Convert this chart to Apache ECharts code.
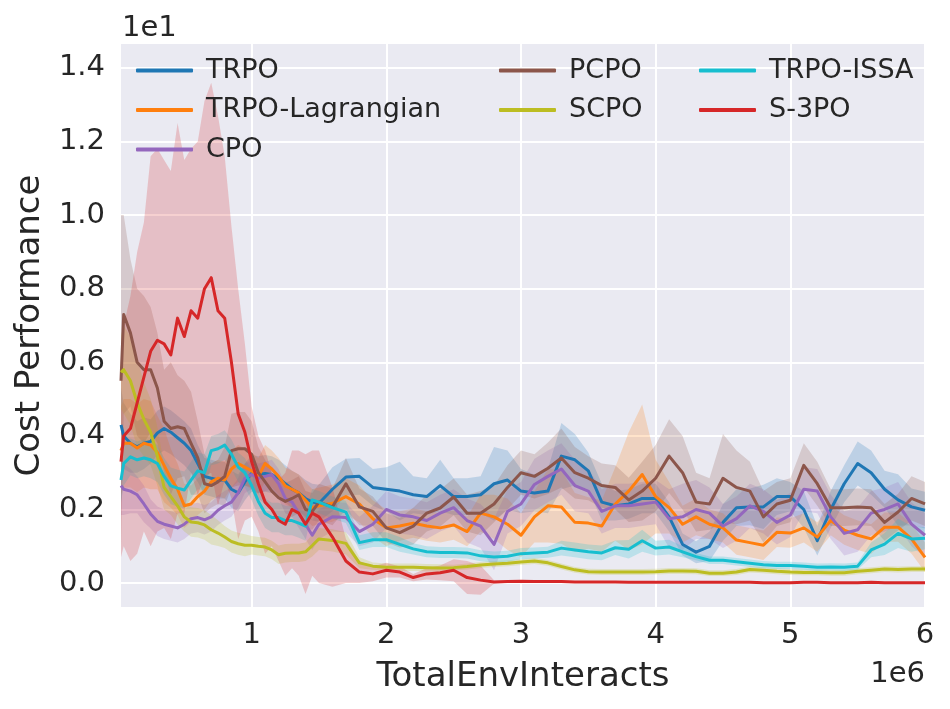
<!DOCTYPE html>
<html>
<head>
<meta charset="utf-8">
<script src="https://cdn.jsdelivr.net/npm/echarts@6/dist/echarts.min.js"></script>
<style>
  html, body { margin: 0; padding: 0; background: #ffffff; }
  #cost { width: 950px; height: 709px; }
</style>
</head>
<body>
<div id="cost"></div>
<script>
// x positions, in units of 1e6 env interacts
var interacts = [0.03,0.05,0.1,0.15,0.2,0.25,0.3,0.35,0.4,0.45,
  0.5,0.55,0.6,0.65,0.7,0.75,0.8,0.85,0.9,0.95,
  1.0,1.05,1.1,1.15,1.2,1.25,1.3,1.35,1.4,1.45,
  1.5,1.6,1.7,1.8,1.9,2.0,2.1,2.2,2.3,2.4,
  2.5,2.6,2.7,2.8,2.9,3.0,3.1,3.2,3.3,3.4,
  3.5,3.6,3.7,3.8,3.9,4.0,4.1,4.2,4.3,4.4,
  4.5,4.6,4.7,4.8,4.9,5.0,5.1,5.2,5.3,5.4,
  5.5,5.6,5.7,5.8,5.9,6.0];

var xTicks = [1, 2, 3, 4, 5, 6];
var yTicks = [0, 0.2, 0.4, 0.6, 0.8, 1.0, 1.2, 1.4];

// cost performance (x 1e1), mean curves
var trpo = [0.43,0.40,0.38,0.37,0.38,0.385,0.408,0.42,0.41,0.395,
  0.38,0.36,0.325,0.29,0.285,0.28,0.28,0.255,0.245,0.275,
  0.298,0.295,0.298,0.295,0.285,0.27,0.255,0.245,0.23,0.22,
  0.217,0.255,0.288,0.29,0.26,0.255,0.25,0.24,0.235,0.265,
  0.235,0.235,0.24,0.27,0.28,0.25,0.245,0.25,0.345,0.335,
  0.305,0.22,0.21,0.215,0.23,0.23,0.18,0.105,0.084,0.10,
  0.165,0.205,0.207,0.207,0.235,0.235,0.20,0.115,0.20,0.27,
  0.325,0.30,0.255,0.226,0.207,0.198];
var trpoLag = [0.36,0.38,0.38,0.367,0.38,0.375,0.355,0.32,0.285,0.255,
  0.21,0.215,0.235,0.25,0.275,0.285,0.28,0.31,0.325,0.315,
  0.305,0.29,0.325,0.31,0.29,0.264,0.255,0.245,0.225,0.205,
  0.21,0.217,0.235,0.215,0.175,0.15,0.155,0.163,0.155,0.15,
  0.158,0.14,0.19,0.18,0.16,0.13,0.18,0.21,0.207,0.165,
  0.163,0.155,0.215,0.25,0.295,0.235,0.205,0.16,0.18,0.16,
  0.15,0.117,0.11,0.103,0.138,0.136,0.15,0.125,0.17,0.144,
  0.13,0.12,0.152,0.152,0.12,0.07];
var cpo = [0.265,0.255,0.25,0.24,0.215,0.188,0.168,0.16,0.155,0.15,
  0.16,0.175,0.178,0.172,0.18,0.198,0.21,0.22,0.245,0.285,
  0.295,0.285,0.29,0.295,0.27,0.23,0.22,0.19,0.16,0.13,
  0.16,0.18,0.178,0.14,0.16,0.20,0.185,0.18,0.17,0.19,
  0.205,0.17,0.155,0.105,0.195,0.215,0.268,0.29,0.31,0.265,
  0.25,0.195,0.21,0.21,0.215,0.22,0.175,0.18,0.20,0.19,
  0.155,0.175,0.21,0.195,0.165,0.185,0.255,0.25,0.18,0.135,
  0.145,0.19,0.20,0.215,0.16,0.13];
var pcpo = [0.55,0.73,0.68,0.60,0.58,0.58,0.53,0.44,0.42,0.425,
  0.42,0.38,0.34,0.27,0.265,0.275,0.29,0.36,0.365,0.365,
  0.35,0.30,0.275,0.25,0.232,0.222,0.23,0.24,0.20,0.195,
  0.22,0.207,0.27,0.207,0.195,0.15,0.137,0.155,0.19,0.204,
  0.234,0.19,0.19,0.215,0.26,0.30,0.29,0.312,0.34,0.30,
  0.285,0.265,0.26,0.226,0.25,0.285,0.345,0.30,0.22,0.215,
  0.285,0.26,0.25,0.18,0.215,0.225,0.32,0.27,0.205,0.205,
  0.207,0.205,0.165,0.193,0.23,0.215];
var scpo = [0.573,0.58,0.55,0.49,0.445,0.41,0.345,0.26,0.235,0.21,
  0.18,0.166,0.164,0.158,0.145,0.136,0.125,0.113,0.107,0.103,
  0.103,0.10,0.098,0.09,0.077,0.081,0.082,0.082,0.085,0.102,
  0.12,0.116,0.108,0.055,0.046,0.043,0.043,0.043,0.042,0.041,
  0.042,0.045,0.049,0.052,0.054,0.057,0.06,0.055,0.045,0.036,
  0.031,0.03,0.03,0.03,0.03,0.031,0.033,0.033,0.032,0.027,
  0.027,0.03,0.037,0.035,0.032,0.03,0.029,0.029,0.028,0.028,
  0.032,0.035,0.038,0.037,0.038,0.038];
var trpoIssa = [0.28,0.325,0.343,0.335,0.34,0.335,0.325,0.29,0.264,0.258,
  0.253,0.28,0.305,0.30,0.36,0.365,0.375,0.35,0.315,0.30,
  0.265,0.222,0.19,0.178,0.178,0.17,0.17,0.163,0.155,0.226,
  0.22,0.205,0.193,0.11,0.118,0.118,0.105,0.093,0.085,0.083,
  0.083,0.082,0.074,0.071,0.073,0.08,0.082,0.084,0.095,0.09,
  0.085,0.082,0.096,0.092,0.115,0.095,0.098,0.085,0.072,0.062,
  0.062,0.058,0.054,0.05,0.048,0.048,0.046,0.043,0.044,0.043,
  0.046,0.09,0.106,0.135,0.12,0.122];
var s3po = [0.33,0.40,0.42,0.49,0.56,0.63,0.66,0.65,0.62,0.72,
  0.67,0.74,0.72,0.80,0.83,0.74,0.72,0.60,0.46,0.41,
  0.33,0.27,0.22,0.20,0.17,0.16,0.20,0.19,0.16,0.19,
  0.18,0.125,0.06,0.03,0.025,0.035,0.03,0.015,0.025,0.028,
  0.035,0.015,0.008,0.003,0.004,0.005,0.004,0.004,0.004,0.003,
  0.003,0.003,0.003,0.002,0.002,0.002,0.002,0.002,0.002,0.002,
  0.002,0.002,0.002,0.001,0.001,0.001,0.002,0.002,0.001,0.001,
  0.001,0.002,0.001,0.001,0.001,0.001];

// half width of the shaded band around each curve
var trpoSpread = [0.1,0.09,0.08,0.07,0.07,0.06,0.06,0.06,0.06,0.06,
  0.06,0.06,0.05,0.05,0.05,0.05,0.05,0.05,0.05,0.05,
  0.05,0.05,0.05,0.05,0.05,0.05,0.05,0.05,0.05,0.05,
  0.05,0.06,0.05,0.05,0.05,0.06,0.08,0.05,0.05,0.07,
  0.05,0.05,0.05,0.1,0.08,0.06,0.05,0.06,0.09,0.07,
  0.05,0.05,0.04,0.04,0.04,0.04,0.04,0.03,0.03,0.04,
  0.05,0.05,0.05,0.06,0.05,0.04,0.05,0.04,0.05,0.05,
  0.06,0.06,0.05,0.07,0.05,0.05];
var trpoLagSpread = [0.12,0.12,0.12,0.12,0.12,0.12,0.1,0.1,0.08,0.07,
  0.06,0.05,0.05,0.05,0.05,0.05,0.05,0.05,0.05,0.05,
  0.05,0.05,0.05,0.05,0.05,0.05,0.05,0.05,0.05,0.05,
  0.05,0.05,0.05,0.05,0.05,0.05,0.04,0.04,0.04,0.04,
  0.04,0.04,0.05,0.06,0.07,0.06,0.07,0.1,0.1,0.08,
  0.07,0.07,0.1,0.16,0.19,0.1,0.07,0.05,0.05,0.04,
  0.04,0.04,0.04,0.04,0.04,0.04,0.04,0.04,0.04,0.04,
  0.04,0.04,0.04,0.04,0.04,0.04];
var cpoSpread = [0.08,0.07,0.06,0.05,0.05,0.04,0.04,0.04,0.04,0.04,
  0.04,0.04,0.04,0.04,0.04,0.04,0.04,0.04,0.04,0.04,
  0.04,0.04,0.04,0.04,0.04,0.04,0.04,0.04,0.04,0.04,
  0.04,0.04,0.04,0.04,0.05,0.05,0.05,0.05,0.05,0.05,
  0.05,0.06,0.06,0.07,0.06,0.06,0.07,0.07,0.07,0.07,
  0.06,0.06,0.06,0.06,0.06,0.06,0.08,0.09,0.08,0.07,
  0.06,0.06,0.06,0.06,0.06,0.06,0.06,0.06,0.06,0.06,
  0.06,0.06,0.06,0.06,0.06,0.06];
var pcpoSpread = [0.45,0.27,0.2,0.2,0.2,0.17,0.15,0.14,0.18,0.14,
  0.13,0.14,0.1,0.08,0.06,0.06,0.08,0.1,0.1,0.1,
  0.09,0.07,0.06,0.05,0.05,0.05,0.05,0.05,0.05,0.05,
  0.05,0.05,0.07,0.05,0.04,0.04,0.04,0.05,0.05,0.05,
  0.05,0.05,0.06,0.05,0.06,0.06,0.06,0.07,0.08,0.07,
  0.06,0.06,0.06,0.06,0.08,0.09,0.1,0.1,0.08,0.07,
  0.12,0.1,0.08,0.07,0.06,0.06,0.06,0.06,0.05,0.05,
  0.05,0.05,0.05,0.05,0.06,0.06];
var scpoSpread = [0.1,0.12,0.12,0.12,0.1,0.09,0.08,0.06,0.05,0.05,
  0.04,0.04,0.04,0.04,0.04,0.035,0.03,0.03,0.03,0.03,
  0.025,0.025,0.025,0.025,0.025,0.025,0.025,0.025,0.025,0.03,
  0.03,0.03,0.03,0.015,0.01,0.01,0.01,0.01,0.01,0.01,
  0.008,0.008,0.008,0.008,0.008,0.008,0.008,0.008,0.008,0.008,
  0.008,0.008,0.008,0.008,0.008,0.008,0.008,0.008,0.008,0.008,
  0.008,0.008,0.008,0.008,0.008,0.008,0.008,0.008,0.008,0.008,
  0.008,0.008,0.008,0.008,0.008,0.008];
var trpoIssaSpread = [0.06,0.06,0.05,0.05,0.05,0.05,0.05,0.05,0.05,0.05,
  0.05,0.05,0.05,0.05,0.04,0.04,0.04,0.04,0.04,0.04,
  0.04,0.04,0.04,0.04,0.04,0.04,0.04,0.04,0.04,0.03,
  0.03,0.03,0.03,0.02,0.02,0.02,0.02,0.015,0.015,0.015,
  0.015,0.015,0.015,0.015,0.015,0.015,0.015,0.015,0.02,0.02,
  0.02,0.02,0.02,0.025,0.03,0.02,0.02,0.015,0.01,0.01,
  0.01,0.01,0.01,0.01,0.01,0.01,0.01,0.01,0.01,0.01,
  0.01,0.02,0.03,0.04,0.035,0.03];
var s3poSpread = [0.26,0.30,0.36,0.41,0.42,0.53,0.52,0.50,0.50,0.53,
  0.48,0.44,0.48,0.51,0.53,0.53,0.44,0.37,0.34,0.24,
  0.15,0.13,0.14,0.10,0.11,0.14,0.16,0.17,0.19,0.17,
  0.18,0.135,0.06,0.03,0.02,0.02,0.015,0.01,0.015,0.02,
  0.03,0.045,0.04,0.005,0.003,0.003,0.003,0.003,0.003,0.002,
  0.002,0.002,0.002,0.002,0.002,0.002,0.002,0.002,0.002,0.002,
  0.002,0.002,0.002,0.002,0.002,0.002,0.002,0.002,0.002,0.002,
  0.002,0.002,0.002,0.002,0.002,0.002];

var algos = [
  {name: 'TRPO', color: '#1f77b4', mean: trpo, spread: trpoSpread},
  {name: 'TRPO-Lagrangian', color: '#ff7f0e', mean: trpoLag, spread: trpoLagSpread},
  {name: 'CPO', color: '#9467bd', mean: cpo, spread: cpoSpread},
  {name: 'PCPO', color: '#8c564b', mean: pcpo, spread: pcpoSpread},
  {name: 'SCPO', color: '#bcbd22', mean: scpo, spread: scpoSpread},
  {name: 'TRPO-ISSA', color: '#17becf', mean: trpoIssa, spread: trpoIssaSpread},
  {name: 'S-3PO', color: '#d62728', mean: s3po, spread: s3poSpread}
];

var chartDom = document.getElementById('cost');
var myChart = echarts.init(chartDom);
var font = 'DejaVu Sans';
var ink = '#262626';

var series = [];
algos.forEach(function (a, k) {
  // shaded band, mean +/- spread, drawn as one polygon in data coords
  series.push({
    type: 'custom', name: a.name + ' band', silent: true, clip: true, z: 1 + k * 0.01,
    data: [[interacts[0], a.mean[0]]],
    renderItem: function (params, api) {
      var pts = [];
      for (var i = 0; i < interacts.length; i++) {
        pts.push(api.coord([interacts[i], a.mean[i] + a.spread[i]]));
      }
      for (var j = interacts.length - 1; j >= 0; j--) {
        pts.push(api.coord([interacts[j], a.mean[j] - a.spread[j]]));
      }
      return {type: 'polygon', shape: {points: pts}, style: {fill: a.color, opacity: 0.22}};
    }
  });
});
algos.forEach(function (a, k) {
  series.push({
    type: 'line', name: a.name, color: a.color, z: 3 + k * 0.01,
    showSymbol: false, symbol: 'none', smooth: false,
    lineStyle: {width: 3, color: a.color, join: 'round'},
    data: interacts.map(function (x, i) { return [x, a.mean[i]]; })
  });
});

function legendCol(names, left) {
  return {
    data: names, left: left, top: 52, orient: 'vertical',
    icon: 'roundRect', itemWidth: 57, itemHeight: 4, itemGap: 12.5,
    textStyle: {fontFamily: font, fontSize: 27, color: ink, lineHeight: 27, padding: [0, 0, 0, 8]},
    selectedMode: false
  };
}

var option = {
  animation: false,
  backgroundColor: '#ffffff',
  grid: {left: 121, right: 25, top: 44, bottom: 102, show: true,
    backgroundColor: '#eaeaf2', borderWidth: 0},
  legend: [
    legendCol(['TRPO', 'TRPO-Lagrangian', 'CPO'], 131),
    legendCol(['PCPO', 'SCPO'], 494),
    legendCol(['TRPO-ISSA', 'S-3PO'], 694)
  ],
  xAxis: {
    type: 'value', min: 0.03, max: 6,
    name: 'TotalEnvInteracts', nameLocation: 'middle', nameGap: 53,
    nameTextStyle: {fontFamily: font, fontSize: 34, color: ink},
    axisLine: {show: false}, axisTick: {show: false, customValues: xTicks},
    axisLabel: {customValues: xTicks, fontFamily: font, fontSize: 29, color: ink, margin: 14},
    splitLine: {show: true, lineStyle: {color: '#ffffff', width: 2}}
  },
  yAxis: {
    type: 'value', min: -0.065, max: 1.465,
    name: 'Cost Performance', nameLocation: 'middle', nameGap: 74, nameRotate: 90,
    nameTextStyle: {fontFamily: font, fontSize: 34, color: ink},
    axisLine: {show: false}, axisTick: {show: false, customValues: yTicks},
    axisLabel: {customValues: yTicks, fontFamily: font, fontSize: 29, color: ink, margin: 16,
      formatter: function (v) { return v.toFixed(1); }},
    splitLine: {show: true, lineStyle: {color: '#ffffff', width: 2}}
  },
  graphic: [
    {type: 'text', left: 122, top: 14,
      style: {text: '1e1', fontFamily: font, fontSize: 29, fill: ink}},
    {type: 'text', right: 25, top: 660,
      style: {text: '1e6', fontFamily: font, fontSize: 29, fill: ink}}
  ],
  series: series
};
option && myChart.setOption(option);
</script>
</body>
</html>
